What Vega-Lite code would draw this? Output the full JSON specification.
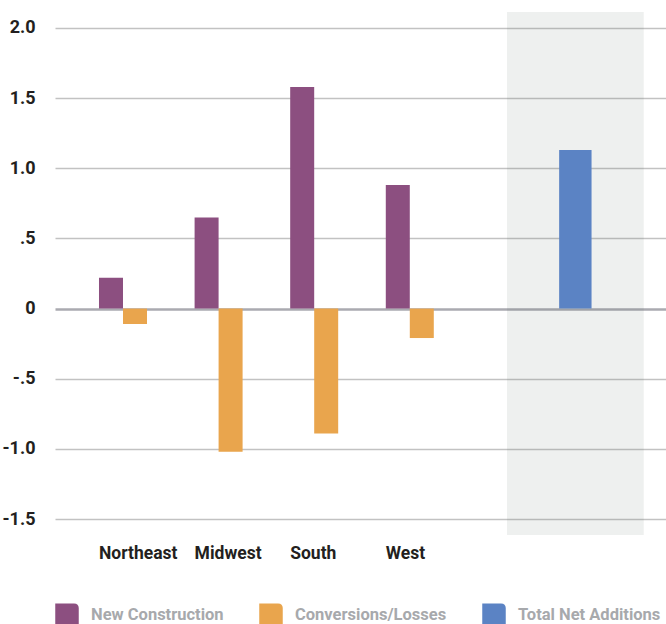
{
  "$schema": "https://vega.github.io/schema/vega-lite/v6.json",
  "width": 611,
  "height": 523,
  "autosize": "none",
  "padding": {"left": 55, "top": 12, "right": 0, "bottom": 89},
  "config": {
    "view": {"stroke": null},
    "font": "Roboto, Liberation Sans, sans-serif"
  },
  "layer": [
    {
      "data": {
        "values": [
          {"region": "Northeast", "series": "New Construction", "value": 0.22},
          {"region": "Northeast", "series": "Conversions/Losses", "value": -0.11},
          {"region": "Midwest", "series": "New Construction", "value": 0.65},
          {"region": "Midwest", "series": "Conversions/Losses", "value": -1.02},
          {"region": "South", "series": "New Construction", "value": 1.58},
          {"region": "South", "series": "Conversions/Losses", "value": -0.89},
          {"region": "West", "series": "New Construction", "value": 0.88},
          {"region": "West", "series": "Conversions/Losses", "value": -0.21}
        ]
      },
      "mark": {"type": "bar"},
      "encoding": {
        "x": {
          "field": "region",
          "type": "nominal",
          "scale": {
            "domain": ["Northeast", "Midwest", "South", "West", "gap"],
            "paddingInner": 0.4979,
            "paddingOuter": 0.9446,
            "align": 0.2436,
            "round": false
          },
          "axis": {
            "title": null,
            "values": ["Northeast", "Midwest", "South", "West"],
            "domain": false,
            "ticks": false,
            "labelAngle": 0,
            "labelAlign": "left",
            "labelOffset": -24,
            "labelPadding": 9,
            "labelBaseline": "top",
            "labelFontSize": 17.5,
            "labelFontWeight": "bold",
            "labelColor": "#231f20"
          }
        },
        "xOffset": {
          "field": "series",
          "type": "nominal",
          "sort": ["New Construction", "Conversions/Losses"],
          "scale": {"paddingInner": 0, "paddingOuter": 0}
        },
        "y": {
          "field": "value",
          "type": "quantitative",
          "scale": {"domain": [-1.614, 2.114], "nice": false, "zero": false},
          "axis": {
            "title": null,
            "values": [-1.5, -1, -0.5, 0, 0.5, 1, 1.5, 2],
            "labelExpr": "datum.value == 0 ? '0' : (datum.value < 0 ? '-' : '') + replace(format(abs(datum.value), '.1f'), '0.', '.')",
            "domain": false,
            "ticks": false,
            "grid": true,
            "gridColor": {"condition": {"test": "datum.value === 0", "value": "#aaaab0"}, "value": "#c2c2c2"},
            "gridWidth": {"condition": {"test": "datum.value === 0", "value": 2.6}, "value": 1.6},
            "labelPadding": 20,
            "labelFontSize": 18,
            "labelFontWeight": "bold",
            "labelColor": "#231f20"
          }
        },
        "color": {
          "field": "series",
          "type": "nominal",
          "scale": {
            "domain": ["New Construction", "Conversions/Losses", "Total Net Additions"],
            "range": ["#8c4f80", "#e9a54d", "#5b83c4"]
          },
          "legend": {
            "title": null,
            "orient": "none",
            "direction": "horizontal",
            "legendX": 0,
            "legendY": 591,
            "symbolType": "M-1,-1H0.6Q1,-1 1,-0.6V1H-1Z",
            "symbolSize": 552,
            "symbolStrokeWidth": 0,
            "symbolOpacity": 1,
            "labelOffset": 12,
            "columnPadding": 35,
            "labelFontSize": 16.5,
            "labelFontWeight": "bold",
            "labelColor": "#a7a9ac",
            "labelLimit": 300
          }
        }
      }
    },
    {
      "data": {
        "values": [
          {"region": "Total", "series": "Total Net Additions", "value": 1.13}
        ]
      },
      "encoding": {
        "x": {
          "field": "region",
          "type": "nominal",
          "scale": {
            "domain": ["gap1", "gap2", "gap3", "Total"],
            "paddingInner": 0,
            "paddingOuter": 0.2348,
            "align": 0.6526,
            "round": false
          },
          "axis": null
        }
      },
      "layer": [
        {
          "mark": {"type": "rect", "color": "#55695f", "opacity": 0.1}
        },
        {
          "mark": {"type": "bar", "width": {"band": 0.237}},
          "encoding": {
            "y": {"field": "value", "type": "quantitative"},
            "color": {"field": "series", "type": "nominal"}
          }
        }
      ]
    }
  ],
  "resolve": {"scale": {"x": "independent"}, "axis": {"x": "independent"}}
}
